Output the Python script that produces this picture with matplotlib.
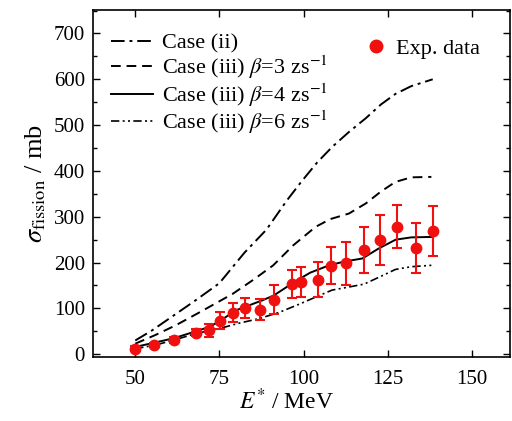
import matplotlib
matplotlib.use("Agg")
import matplotlib.pyplot as plt
from matplotlib.ticker import MultipleLocator
from matplotlib.lines import Line2D

plt.rcParams['font.family'] = ['Liberation Serif', 'DejaVu Serif']
plt.rcParams['mathtext.fontset'] = 'stix'

# Datos experimentales (E*, sigma, error)
e_exp = [50.0, 55.6, 61.5, 68.2, 71.9, 75.1, 78.9, 82.7, 87.1, 91.1,
         96.5, 99.3, 104.2, 108.3, 112.6, 118.0, 122.7, 127.8, 133.5, 138.4]
s_exp = [12, 20, 31, 47, 52, 73, 91, 100, 97, 119,
         153, 158, 163, 193, 198, 228, 249, 278, 232, 269]
err_exp = [5, 5, 6, 8, 15, 19, 20, 22, 23, 31,
           31, 33, 38, 40, 46, 50, 55, 47, 55, 55]

# Curvas teóricas
e_ii = [50, 55, 61.5, 68, 75, 82.5, 89, 95, 99.3, 104, 108.6, 113.5, 118.5, 123, 127.3, 132, 138.4]
s_ii = [30, 52, 85, 118, 155, 222, 272, 335, 376, 418, 453, 485, 515, 545, 568, 585, 600]

e_b3 = [50, 56, 62, 70, 79, 85, 91, 97, 103.6, 108, 113.5, 118.5, 123, 127.3, 132, 138]
s_b3 = [23, 42, 63, 95, 132, 162, 194, 238, 278, 295, 307, 329, 355, 376, 386, 387]

e_b4 = [50, 55, 61.5, 68, 72.2, 75, 80, 87.9, 91.1, 97.8, 102, 107.6, 112, 117.5,
        122.4, 127.4, 132, 138.2]
s_b4 = [16, 24, 35, 50, 60, 72, 96, 118, 128, 160, 178, 194, 202, 209,
        231, 250, 255, 256]

e_b6 = [50, 56, 62, 68, 75, 81, 87, 93, 99, 104, 108.5, 113, 118, 123, 127.3, 132, 138]
s_b6 = [12, 20, 32, 45, 56, 68, 78, 92, 110, 126, 140, 146, 153, 170, 185, 191, 194]

rojo = '#f01010'

fig = plt.figure(figsize=(5.12, 4.21), dpi=100)
ax = fig.add_axes([0.182, 0.151, 0.815, 0.825])

l1, = ax.plot(e_ii, s_ii, color='k', lw=1.4, dashes=(7, 2.5, 1.5, 2.5), label='Case (ii)')
l2, = ax.plot(e_b3, s_b3, color='k', lw=1.4, dashes=(5, 3), label=r'Case (iii) $\beta$=3 zs$^{-1}$')
l3, = ax.plot(e_b4, s_b4, color='k', lw=1.4, label=r'Case (iii) $\beta$=4 zs$^{-1}$')
l4, = ax.plot(e_b6, s_b6, color='k', lw=1.2, dashes=(5, 2, 1.2, 2, 1.2, 2), label=r'Case (iii) $\beta$=6 zs$^{-1}$')

ax.errorbar(e_exp, s_exp, yerr=err_exp, fmt='o', color=rojo, ms=7.5,
            ecolor=rojo, elinewidth=1.5, capsize=3.5, capthick=1.5, zorder=5)

leg1 = ax.legend(handles=[l1, l2, l3, l4], loc='upper left', frameon=False, fontsize=16,
                 handlelength=1.9, handletextpad=0.4, labelspacing=0.0,
                 bbox_to_anchor=(0.01, 0.972), borderaxespad=0.2)
ax.add_artist(leg1)
exp_h = Line2D([], [], ls='none', marker='o', ms=9, color=rojo)
ax.legend(handles=[exp_h], labels=['Exp. data'], loc='upper left', frameon=False, fontsize=16,
          handlelength=1.0, handletextpad=0.4, bbox_to_anchor=(0.62, 0.958), borderaxespad=0.2)

ax.set_xlim(37.5, 161.5)
ax.set_ylim(-7, 751)
ax.xaxis.set_major_locator(MultipleLocator(25))
ax.yaxis.set_major_locator(MultipleLocator(100))
ax.yaxis.set_minor_locator(MultipleLocator(50))
ax.tick_params(which='both', direction='in', top=True, right=True, labelsize=15)
ax.tick_params(axis='x', pad=9)
ax.tick_params(axis='y', pad=6)
ax.tick_params(which='major', length=5, width=1)
ax.tick_params(which='minor', length=3, width=1)
for sp in ax.spines.values():
    sp.set_linewidth(1.2)

ax.set_xlabel(r'$E^{*}$ / MeV', fontsize=17)
ax.xaxis.set_label_coords(0.464, -0.09)
ax.set_ylabel(r'$\sigma_{\rm fission}$ / mb', fontsize=19, labelpad=4)

fig.savefig('out.png', dpi=100)
